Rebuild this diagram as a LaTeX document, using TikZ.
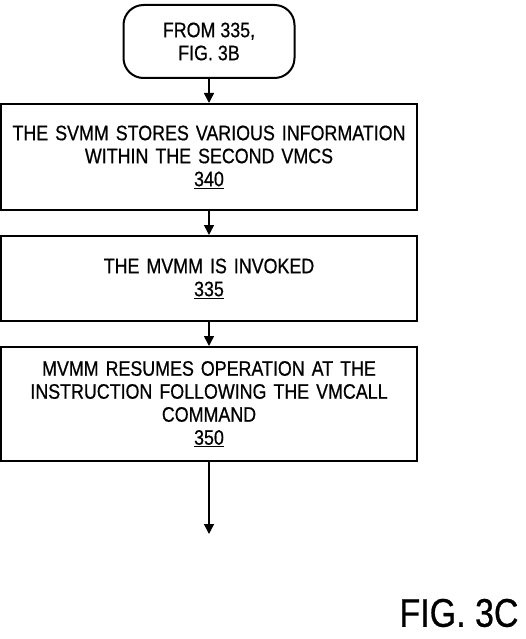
\documentclass[tikz,border=0pt]{standalone}
\usepackage{fontspec}
\setmainfont{Liberation Sans}[FakeStretch=0.85,FakeBold=0.6]
\usetikzlibrary{arrows.meta,positioning,shapes}

\begin{document}
\begin{tikzpicture}[x=1pt,y=1pt,node distance=24pt,
  every node/.style={font=\fontsize{21}{23}\selectfont}
]

\tikzset{box style/.style={draw,line width=2pt,rectangle,minimum width=416pt,text width=400pt,align=center,inner sep=0pt}}
\tikzset{term style/.style={draw,line width=2pt,rectangle,rounded corners=20pt,minimum width=171pt,minimum height=73pt,align=center}}

\useasboundingbox (0,0) rectangle (525,-639);

\node[term style] (t1) at (209,-41.5) {FROM 335,\\FIG. 3B};
\node[box style,minimum height=106pt,below=of t1] (b340)
  {THE SVMM STORES VARIOUS INFORMATION\\WITHIN THE SECOND VMCS\\\underline{340}};
\node[box style,minimum height=85pt,below=of b340] (b335)
  {THE MVMM IS INVOKED\\\underline{335}};
\node[box style,minimum height=114pt,below=of b335] (b350)
  {MVMM RESUMES OPERATION AT THE\\INSTRUCTION FOLLOWING THE VMCALL\\COMMAND\\\underline{350}};
\coordinate[below=72pt of b350.south] (out);

\node[font=\fontsize{40}{44}\selectfont] (fig) at (459,-613) {FIG. 3C};

\draw[line width=1.5pt,-{Triangle[length=10pt,width=10pt]}]
  (t1) edge (b340)
  (b340) edge (b335)
  (b335) edge (b350);
\draw[line width=1.5pt,-{Triangle[length=10pt,width=10pt]}] (b350) -- (out);

\end{tikzpicture}
\end{document}
